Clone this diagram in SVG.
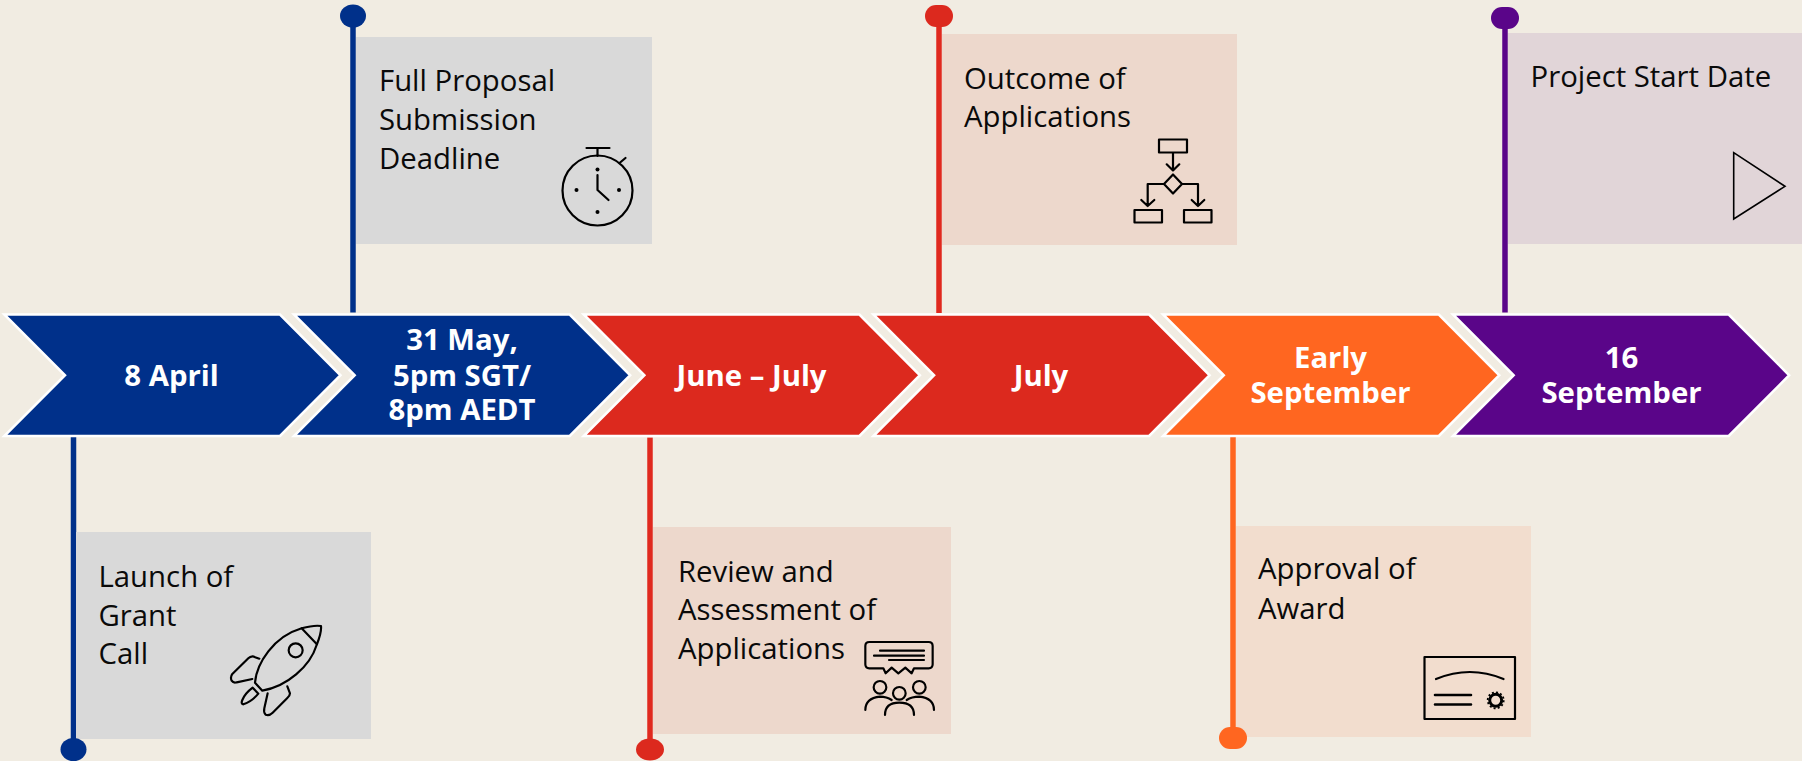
<svg xmlns="http://www.w3.org/2000/svg" width="1802" height="761" viewBox="0 0 1802 761">
<style>
text{font-family:"Open Sans","Noto Sans","Liberation Sans",sans-serif}
.t{font-size:29.33px;fill:#0a0a0a}
.c{font-size:29.33px;font-weight:700;fill:#fff;text-anchor:middle}
.ch{stroke:#fff;stroke-width:2.5;stroke-linejoin:miter}
.i{fill:none;stroke:#000;stroke-width:2.2;stroke-linecap:round;stroke-linejoin:round}
.z{fill:none;stroke:#000;stroke-width:6.5;stroke-linecap:round;stroke-linejoin:round}
.blue{fill:#00308A}.red{fill:#DC291E}.org{fill:#FF6620}.pur{fill:#5A0589}
.lb{stroke:#00308A}.lr{stroke:#E0291E}.lo{stroke:#FF6620}.lp{stroke:#5A0589}
.l{stroke-width:5.5;fill:none}
</style>
<defs>
<polygon id="chev" points="0,0 275.7,0 336.2,60.75 275.7,121.5 0,121.5 60.7,60.75"/>
</defs>
<rect width="1802" height="761" fill="#F1ECE2"/>
<g id="connectors">
<line class="l lb" x1="73.5" y1="436" x2="73.5" y2="749"/>
<line class="l lb" x1="353" y1="16" x2="353" y2="312.5"/>
<line class="l lr" x1="650" y1="437.5" x2="650" y2="749"/>
<line class="l lr" x1="939" y1="16" x2="939" y2="313"/>
<line class="l lo" x1="1233" y1="436" x2="1233" y2="738"/>
<line class="l lp" x1="1505" y1="18" x2="1505" y2="312.5"/>
</g>
<g id="date-1"><use href="#chev" x="4.3" y="314.5" class="ch blue"/><text class="c" x="171.5" y="386">8 April</text></g>
<g id="date-2"><use href="#chev" x="294" y="314.5" class="ch blue"/><text class="c" x="462" y="350">31 May,</text><text class="c" x="462" y="385.5">5pm SGT/</text><text class="c" x="462" y="420">8pm AEDT</text></g>
<g id="date-3"><use href="#chev" x="583.7" y="314.5" class="ch red"/><text class="c" x="751.5" y="386">June – July</text></g>
<g id="date-4"><use href="#chev" x="873.4" y="314.5" class="ch red"/><text class="c" x="1041" y="386">July</text></g>
<g id="date-5"><use href="#chev" x="1163.1" y="314.5" class="ch org"/><text class="c" x="1330.5" y="368">Early</text><text class="c" x="1330.5" y="403">September</text></g>
<g id="date-6"><use href="#chev" x="1453" y="314.5" class="ch pur"/><text class="c" x="1621.5" y="368">16</text><text class="c" x="1621.5" y="403">September</text></g>
<g id="launch">
<rect x="76" y="532" width="295" height="207" fill="#D9D9D9"/>
<ellipse class="blue" cx="73.5" cy="749.5" rx="13" ry="11.5"/>
<text class="t" x="98.5" y="586.5">Launch of</text><text class="t" x="98.5" y="626">Grant</text><text class="t" x="98.5" y="663.5">Call</text>
<g transform="translate(200 600) scale(.3333)" class="z">
<path d="M165 248C170 190 220 110 305 85C330 78 350 76 363 78C365 95 358 115 350 135C330 200 260 260 187 272Z"/>
<path d="M305 85L350 132"/><circle cx="287" cy="151" r="21"/>
<path d="M178 176L158 169Q150 170 145 175L97 222Q90 232 95 242Q100 250 110 247L157 237"/>
<path d="M262 259L270 280Q270 287 262 294L218 338Q208 348 197 344Q190 338 193 325L203 280"/>
<path d="M158 263L175 281Q155 305 130 313Q122 312 127 300Q135 280 158 263Z"/>
</g>
</g>
<g id="proposal">
<rect x="356" y="37" width="296" height="207" fill="#D9D9D9"/>
<ellipse class="blue" cx="353" cy="16" rx="13" ry="11.5"/>
<text class="t" x="379" y="91">Full Proposal</text><text class="t" x="379" y="130">Submission</text><text class="t" x="379" y="168.5">Deadline</text>
<g class="i"><circle cx="597.5" cy="190.5" r="35"/><path d="M586.5 148H609.5M597.5 148V156M619.5 163L625.5 158M597.5 175V190L608.5 200"/></g>
<g fill="#000"><circle cx="597.5" cy="169.5" r="2"/><circle cx="597.5" cy="212" r="2"/><circle cx="576.5" cy="190" r="2"/><circle cx="619" cy="190" r="2"/></g>
</g>
<g id="review">
<rect x="653" y="527" width="298" height="207" fill="#EDD8CC"/>
<ellipse class="red" cx="650" cy="749.5" rx="14" ry="11"/>
<text class="t" x="678" y="581.5">Review and</text><text class="t" x="678" y="620">Assessment of</text><text class="t" x="678" y="658.5">Applications</text>
<g transform="translate(840 620) scale(.3333)" class="z">
<path d="M130 145H88Q76 145 76 133V78Q76 66 88 66H266Q278 66 278 78V133Q278 145 266 145H222L215 160L196 143L175 160L155 143L137 160Z"/>
<path d="M120 92H252M102 107H252M147 120H252"/>
<circle cx="120" cy="202" r="19"/><circle cx="178" cy="220" r="19"/><circle cx="238" cy="202" r="19"/>
<path d="M76 270Q76 235 120 230Q140 230 155 240M135 285Q135 248 178 248Q222 248 222 285M200 240Q215 230 238 230Q282 235 282 270"/>
</g>
</g>
<g id="outcome">
<rect x="942" y="34" width="295" height="211" fill="#EDD8CC"/>
<rect class="red" x="925" y="5" width="28" height="22" rx="11"/>
<text class="t" x="964" y="88.5">Outcome of</text><text class="t" x="964" y="127">Applications</text>
<g class="i">
<rect x="1159" y="139.5" width="28" height="13"/><path d="M1173 153V170.5M1166.7 164.3L1173 170.5L1179.3 164.3"/>
<path d="M1173 174.5L1182 184L1173 193.5L1164 184Z"/>
<path d="M1164 184H1147.7V206M1141.3 200L1147.7 206L1154.3 200M1182 184H1198V206M1191.7 200L1198 206L1204.3 200"/>
<rect x="1134.5" y="210" width="27.5" height="12.5"/><rect x="1184" y="210" width="27.5" height="12.5"/>
</g>
</g>
<g id="approval">
<rect x="1236" y="526" width="295" height="211" fill="#F2DDCE"/>
<rect class="org" x="1219" y="727" width="28" height="22" rx="11"/>
<text class="t" x="1258" y="579">Approval of</text><text class="t" x="1258" y="618.5">Award</text>
<g class="i" stroke-linecap="butt"><rect x="1424.5" y="657" width="90.5" height="62"/><path d="M1436 679Q1470 665 1503.5 679"/><path d="M1435 695H1471M1435 704.5H1471" stroke-width="2.6"/></g>
<circle cx="1495.7" cy="700.3" r="6" fill="none" stroke="#000" stroke-width="3"/>
<circle cx="1495.7" cy="700.3" r="8" fill="none" stroke="#000" stroke-width="1.8" stroke-dasharray="2 2.2"/>
</g>
<g id="start">
<rect x="1508" y="33" width="294" height="211" fill="#E1D5D8"/>
<rect class="pur" x="1491" y="7" width="28" height="22" rx="11"/>
<text class="t" x="1530.5" y="87">Project Start Date</text>
<polygon points="1733.7,152.7 1785,186.3 1733.7,219" fill="none" stroke="#000" stroke-width="1.6"/>
</g>
</svg>
